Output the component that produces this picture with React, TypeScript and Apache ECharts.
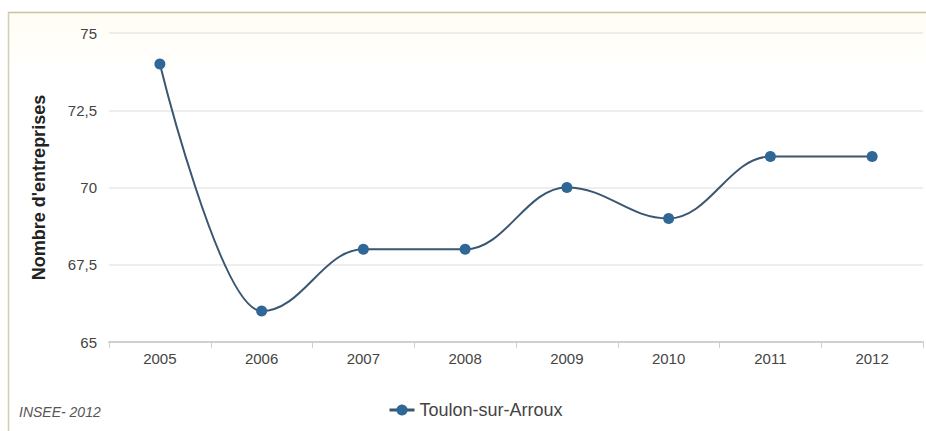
import React, { useEffect, useRef } from "react";
import * as echarts from "echarts";

const years = ["2005", "2006", "2007", "2008", "2009", "2010", "2011", "2012"];
const entreprises = [74, 66, 68, 68, 70, 69, 71, 71];
const seriesName = "Toulon-sur-Arroux";
const yAxisTitle = "Nombre d'entreprises";
const sourceText = "INSEE- 2012";

export default function App() {
  const ref = useRef<HTMLDivElement>(null);
  useEffect(() => {
    if (!ref.current) return;
    const chart = echarts.init(ref.current, null, { renderer: "svg" });
    chart.setOption({
      animation: false,
      backgroundColor: "#ffffff",
      textStyle: { fontFamily: "Liberation Sans, Arial, sans-serif" },
      graphic: [
        {
          type: "rect",
          shape: { x: 9, y: 13, width: 917, height: 60 },
          style: {
            fill: new echarts.graphic.LinearGradient(0, 0, 0, 1, [
              { offset: 0, color: "#fffdf3" },
              { offset: 1, color: "#ffffff" },
            ]),
          },
          z: -10,
        },
        {
          type: "line",
          shape: { x1: 8, y1: 12.5, x2: 926, y2: 12.5 },
          style: { stroke: "#c9c1a0", lineWidth: 1.5 },
        },
        {
          type: "line",
          shape: { x1: 8.5, y1: 12, x2: 8.5, y2: 431 },
          style: { stroke: "#d2ccb0", lineWidth: 1.5 },
        },
        {
          type: "text",
          left: 19,
          top: 405,
          style: {
            text: sourceText,
            fill: "#555555",
            font: "italic 14px Liberation Sans, Arial, sans-serif",
          },
        },
      ],
      grid: { left: 109, right: 3, top: 33, bottom: 89, containLabel: false },
      legend: {
        top: 396,
        left: 383,
        itemWidth: 25,
        itemHeight: 14,
        data: [seriesName],
        lineStyle: { width: 3 },
        textStyle: { color: "#444444", fontSize: 18 },
      },
      xAxis: {
        type: "category",
        data: years,
        boundaryGap: true,
        axisLine: { lineStyle: { color: "#cfcfcf", width: 2 } },
        axisTick: { show: true, alignWithLabel: false, length: 6, lineStyle: { color: "#cfcfcf" } },
        axisLabel: { color: "#444444", fontSize: 15, margin: 9 },
        splitLine: { show: false },
      },
      yAxis: {
        type: "value",
        min: 65,
        max: 75,
        interval: 2.5,
        name: yAxisTitle,
        nameLocation: "middle",
        nameGap: 61,
        nameRotate: 90,
        nameTextStyle: { color: "#222222", fontSize: 18, fontWeight: "bold" },
        axisLine: { show: false },
        axisTick: { show: false },
        axisLabel: {
          color: "#444444",
          fontSize: 15,
          margin: 12,
          formatter: (v: number) => String(v).replace(".", ","),
        },
        splitLine: { lineStyle: { color: "#e8e8e8", width: 1.5 } },
      },
      series: [
        {
          name: seriesName,
          type: "line",
          data: entreprises,
          smooth: 0.4,
          smoothMonotone: "x",
          symbol: "circle",
          symbolSize: 11,
          itemStyle: { color: "#2f6796" },
          lineStyle: { color: "#3a5670", width: 2 },
        },
      ],
    });
    return () => chart.dispose();
  }, []);
  return (
    <div
      ref={ref}
      style={{ position: "absolute", left: 0, top: 0, width: 926, height: 431 }}
    />
  );
}
